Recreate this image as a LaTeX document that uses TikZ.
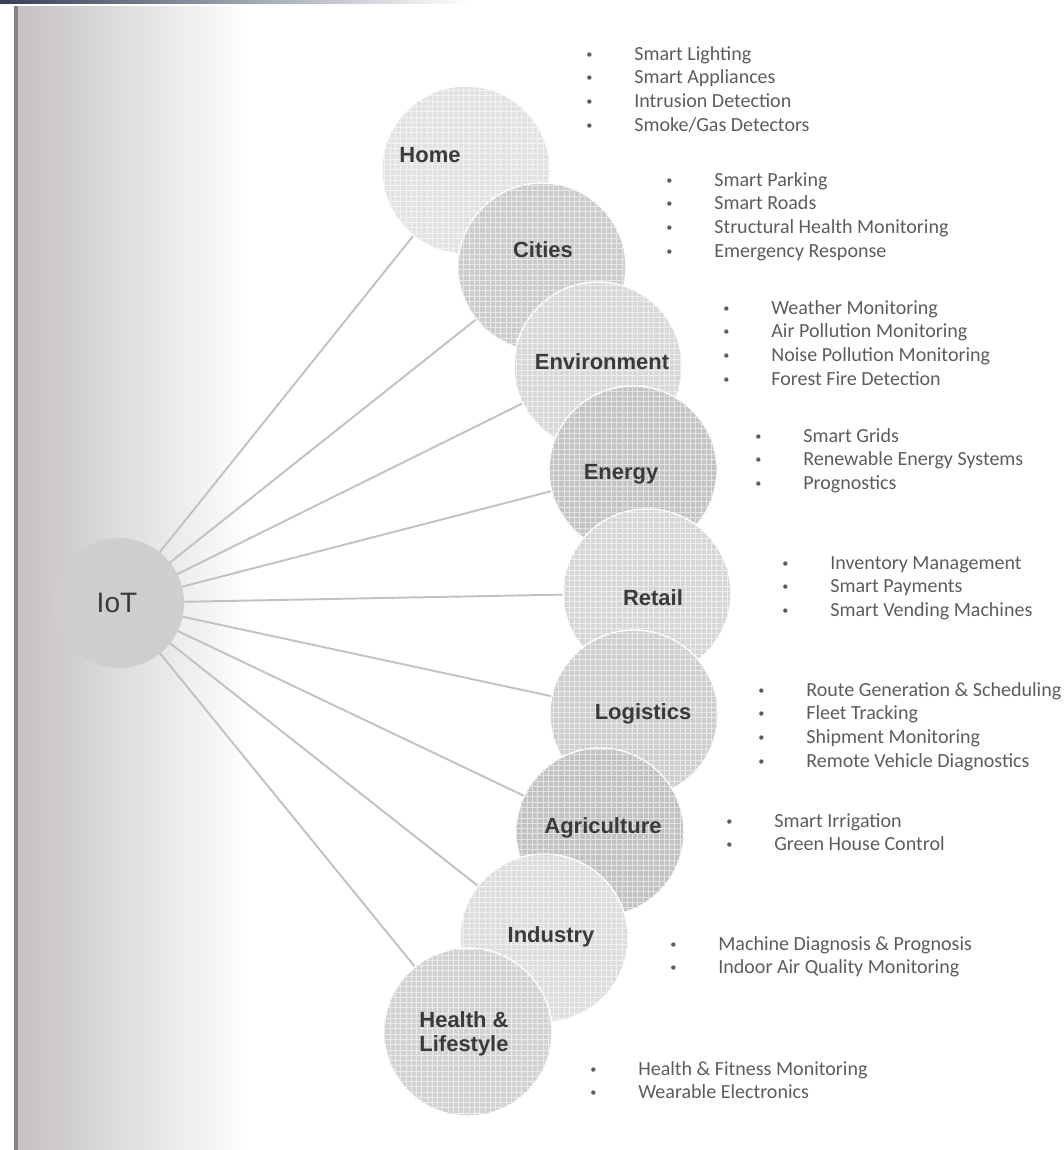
\documentclass[tikz,border=0pt]{standalone}
\usepackage{fontspec}
\setmainfont{Carlito}
\newfontfamily\headfont{Liberation Sans}
\usetikzlibrary{patterns,backgrounds}

\definecolor{scangray}{HTML}{C4C0C4}
\definecolor{spinegray}{HTML}{848286}
\definecolor{topline}{HTML}{354058}
\definecolor{spokegray}{HTML}{C2C2C2}
\definecolor{labelgray}{HTML}{3A3A3A}
\definecolor{itemgray}{HTML}{5C5C5C}
\definecolor{iotfill}{HTML}{CFCDD0}
\definecolor{homefill}{HTML}{E2E2E5}
\definecolor{citiesfill}{HTML}{CBCBCD}
\definecolor{envfill}{HTML}{D8D8D9}
\definecolor{energyfill}{HTML}{C4C4C5}
\definecolor{retailfill}{HTML}{D6D6D6}
\definecolor{logisticsfill}{HTML}{CFCFD0}
\definecolor{agrifill}{HTML}{C2C2C3}
\definecolor{industryfill}{HTML}{DEDEDF}
\definecolor{healthfill}{HTML}{D2D2D3}

\newcommand\bul{\raisebox{0.2ex}{\scriptsize\textbullet}}
\newcommand\applist[1]{\begin{tabular}[t]{@{}p{0.96cm}@{}l@{}}#1\end{tabular}}

\begin{document}
\begin{tikzpicture}[
  x=0.02cm, y=-0.02cm,
  disc/.style={circle, fill=#1, draw=white, line width=0.8pt, minimum size=3.36cm, inner sep=0pt,
    postaction={pattern=grid, pattern color=#1!45!white}},
  lbl/.style={font=\headfont\bfseries\fontsize{12.5}{14}\selectfont, text=labelgray, align=center, inner sep=0pt},
  items/.style={anchor=base west, inner sep=0pt, font=\fontsize{11.4}{13.6}\selectfont, text=itemgray},
  spoke/.style={draw=spokegray, line width=1.1pt}
]
\useasboundingbox (0,0) rectangle (1063,1150);

% hub
\node[circle, fill=iotfill, minimum size=2.6cm, inner sep=0pt] (iot) at (119,603) {};
\node[font=\headfont\fontsize{16}{18}\selectfont, text=labelgray] (iott) at (117,603) {IoT};

% application areas
\node[disc=homefill] (home) at (466,170) {};
\node[disc=citiesfill] (cities) at (542,267) {};
\node[disc=envfill] (env) at (598,366) {};
\node[disc=energyfill] (energy) at (633,470) {};
\node[disc=retailfill] (retail) at (647,593) {};
\node[disc=logisticsfill] (logistics) at (634,714) {};
\node[disc=agrifill] (agri) at (600,832) {};
\node[disc=industryfill] (industry) at (544,938) {};
\node[disc=healthfill] (health) at (468,1032) {};

\node[lbl] (homet) at (430,155) {Home};
\node[lbl] (citiest) at (543,250) {Cities};
\node[lbl] (envt) at (602,362) {Environment};
\node[lbl] (energyt) at (621,474) {Energy};
\node[lbl] (retailt) at (653,598) {Retail};
\node[lbl] (logisticst) at (643,714) {Logistics};
\node[lbl] (agrit) at (603,828) {Agriculture};
\node[lbl] (industryt) at (551,937) {Industry};
\node[lbl] (healtht) at (464,1034) {Health \&\\Lifestyle};

% lists
\node[items] (homelist) at (586,60) {\applist{\bul & Smart Lighting\\ \bul & Smart Appliances\\ \bul & Intrusion Detection\\ \bul & Smoke/Gas Detectors}};
\node[items] (citieslist) at (666,186) {\applist{\bul & Smart Parking\\ \bul & Smart Roads\\ \bul & Structural Health Monitoring\\ \bul & Emergency Response}};
\node[items] (envlist) at (723,314) {\applist{\bul & Weather Monitoring\\ \bul & Air Pollution Monitoring\\ \bul & Noise Pollution Monitoring\\ \bul & Forest Fire Detection}};
\node[items] (energylist) at (755,442) {\applist{\bul & Smart Grids\\ \bul & Renewable Energy Systems\\ \bul & Prognostics}};
\node[items] (retaillist) at (782,569) {\applist{\bul & Inventory Management\\ \bul & Smart Payments\\ \bul & Smart Vending Machines}};
\node[items] (logisticslist) at (758,696) {\applist{\bul & Route Generation \& Scheduling\\ \bul & Fleet Tracking\\ \bul & Shipment Monitoring\\ \bul & Remote Vehicle Diagnostics}};
\node[items] (agrilist) at (726,827) {\applist{\bul & Smart Irrigation\\ \bul & Green House Control}};
\node[items] (industrylist) at (670,950) {\applist{\bul & Machine Diagnosis \& Prognosis\\ \bul & Indoor Air Quality Monitoring}};
\node[items] (healthlist) at (590,1075) {\applist{\bul & Health \& Fitness Monitoring\\ \bul & Wearable Electronics}};

\begin{scope}[on background layer]
% scanned page edge
\shade[left color=scangray, right color=white] (17,6) rectangle (250,1150);
\fill[spinegray] (14,6) rectangle (18,1150);
\shade[left color=topline, right color=white] (0,0) rectangle (470,3);
% spokes
\foreach \area in {home,cities,env,energy,retail,logistics,agri,industry,health}
  \draw[spoke] (iot.center) -- (\area.center);
\end{scope}
\end{tikzpicture}
\end{document}
